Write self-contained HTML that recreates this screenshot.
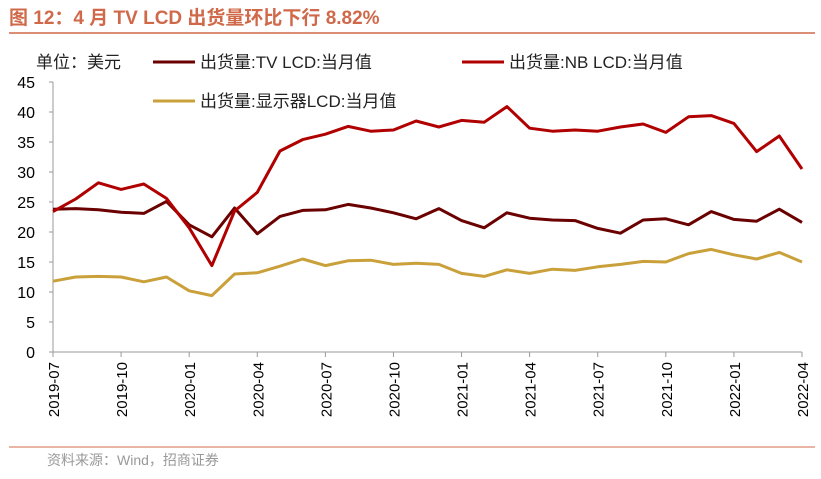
<!DOCTYPE html>
<html><head><meta charset="utf-8"><style>
body{margin:0;width:821px;height:474px;background:#fff;overflow:hidden;font-family:"Liberation Sans","Noto Sans CJK SC",sans-serif;}
</style></head><body>
<svg width="821" height="474" font-family="Liberation Sans, Noto Sans CJK SC, sans-serif">
<text x="9" y="24" font-size="19" font-weight="bold" fill="#d0694a">图 12：4 月 TV LCD 出货量环比下行 8.82%</text>
<line x1="9" y1="33" x2="815" y2="33" stroke="#d0694a" stroke-width="1.5"/>
<text x="36" y="68" font-size="17" fill="#222">单位：美元</text>
<g id="legend"></g>
<g id="axes"></g>
<g id="series"></g>
<line x1="9" y1="447" x2="815" y2="447" stroke="#d0694a" stroke-width="1"/>
<text x="47" y="465" font-size="14" fill="#999">资料来源：Wind，招商证券</text>
</svg>
<script>
const categories=["2019-07","2019-08","2019-09","2019-10","2019-11","2019-12","2020-01","2020-02","2020-03","2020-04","2020-05","2020-06","2020-07","2020-08","2020-09","2020-10","2020-11","2020-12","2021-01","2021-02","2021-03","2021-04","2021-05","2021-06","2021-07","2021-08","2021-09","2021-10","2021-11","2021-12","2022-01","2022-02","2022-03","2022-04"];
const tvValues=[23.8,23.9,23.7,23.3,23.1,25.1,21.2,19.2,24.0,19.7,22.6,23.6,23.7,24.6,24.0,23.2,22.2,23.9,21.9,20.7,23.2,22.3,22.0,21.9,20.6,19.8,22.0,22.2,21.2,23.4,22.1,21.8,23.8,21.6];
const nbValues=[23.4,25.5,28.2,27.1,28.0,25.6,20.7,14.4,23.5,26.6,33.5,35.4,36.3,37.6,36.8,37.0,38.5,37.5,38.6,38.3,40.9,37.3,36.8,37.0,36.8,37.5,38.0,36.6,39.2,39.4,38.1,33.4,36.0,30.5];
const monitorValues=[11.8,12.5,12.6,12.5,11.7,12.5,10.2,9.4,13.0,13.2,14.3,15.5,14.4,15.2,15.3,14.6,14.8,14.6,13.1,12.6,13.7,13.1,13.8,13.6,14.2,14.6,15.1,15.0,16.4,17.1,16.2,15.5,16.6,15.0];
const yTicks=[0,5,10,15,20,25,30,35,40,45];
const xTickLabels=["2019-07","2019-10","2020-01","2020-04","2020-07","2020-10","2021-01","2021-04","2021-07","2021-10","2022-01","2022-04"];
const seriesNames=["出货量:TV LCD:当月值","出货量:NB LCD:当月值","出货量:显示器LCD:当月值"];
const NS="http://www.w3.org/2000/svg";
const X0=53,X1=802,Y0=352,Y1=82;
const xs=i=>X0+(X1-X0)*i/(categories.length-1);
const ys=v=>Y0-(Y0-Y1)*v/45;
function mk(tag,at,parent){const e=document.createElementNS(NS,tag);for(const k in at)e.setAttribute(k,at[k]);parent.appendChild(e);return e;}
const axes=document.getElementById('axes');
const ya=mk('line',{x1:X0,y1:Y1,x2:X0,y2:Y0,stroke:'#999'},axes);


const xa=mk('line',{x1:X0,y1:Y0,x2:X1,y2:Y0,stroke:'#999'},axes);


yTicks.forEach(v=>{
  mk('line',{x1:X0-4,y1:ys(v),x2:X0,y2:ys(v),stroke:'#999'},axes);
  const t=mk('text',{x:X0-18,y:ys(v)+6,'font-size':16,'text-anchor':'end',fill:'#000'},axes);
  t.textContent=v;
  
  
});
xTickLabels.forEach(lbl=>{
  const i=categories.indexOf(lbl);const x=xs(i);
  mk('line',{x1:x,y1:Y0,x2:x,y2:Y0+5,stroke:'#999'},axes);
  const t=mk('text',{x:0,y:0,'font-size':15,'text-anchor':'end',fill:'#000',transform:`translate(${x+6},${Y0+10}) rotate(-90)`},axes);
  t.textContent=lbl;
  
  
});
const colors=['#6b0000','#b00000','#c9a03a'];
const data=[tvValues,nbValues,monitorValues];
const sg=document.getElementById('series');
data.forEach((arr,k)=>{
  const p=mk('polyline',{points:arr.map((v,i)=>xs(i)+','+ys(v)).join(' '),fill:'none',stroke:colors[k],'stroke-width':3,'stroke-linejoin':'round'},sg);
  
  
});
const lg=document.getElementById('legend');
const lpos=[[153,68],[462,68],[153,107]];
lpos.forEach((p,k)=>{
  const l=mk('line',{x1:p[0],y1:p[1]-6,x2:p[0]+42,y2:p[1]-6,stroke:colors[k],'stroke-width':3},lg);
  
  
  const t=mk('text',{x:p[0]+47,y:p[1],'font-size':17,fill:'#222'},lg);
  t.textContent=seriesNames[k];
  
  
});
</script>
</body></html>
